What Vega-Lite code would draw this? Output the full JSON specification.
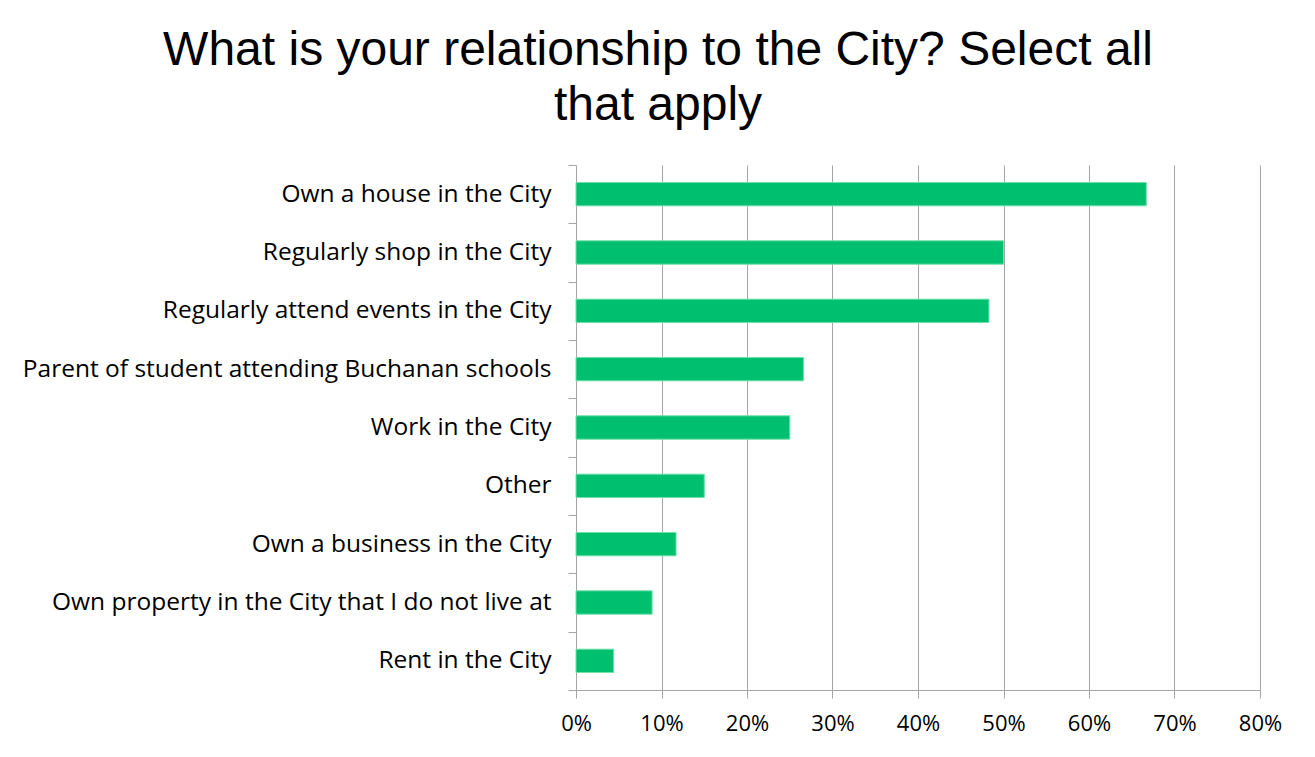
{
  "$schema": "https://vega.github.io/schema/vega-lite/v6.json",
  "width": 684,
  "height": 525,
  "autosize": {"type": "none"},
  "padding": {"left": 576, "top": 165, "right": 55, "bottom": 67},
  "background": "white",
  "title": {
    "text": ["What is your relationship to the City? Select all", "that apply"],
    "anchor": "middle",
    "dx": -260,
    "offset": 22,
    "fontSize": 48,
    "font": "Liberation Sans",
    "fontWeight": "normal",
    "color": "#000000",
    "lineHeight": 55
  },
  "data": {
    "values": [
      {"category": "Own a house in the City", "pct": 0.667},
      {"category": "Regularly shop in the City", "pct": 0.5},
      {"category": "Regularly attend events in the City", "pct": 0.483},
      {"category": "Parent of student attending Buchanan schools", "pct": 0.266},
      {"category": "Work in the City", "pct": 0.25},
      {"category": "Other", "pct": 0.15},
      {"category": "Own a business in the City", "pct": 0.117},
      {"category": "Own property in the City that I do not live at", "pct": 0.089},
      {"category": "Rent in the City", "pct": 0.044}
    ]
  },
  "mark": {"type": "bar", "color": "#00BF6F", "stroke": "#6EE0A8", "strokeWidth": 1, "height": {"band": 0.4}},
  "encoding": {
    "y": {
      "field": "category",
      "type": "nominal",
      "sort": null,
      "scale": {"paddingInner": 0, "paddingOuter": 0},
      "axis": {
        "title": null,
        "tickBand": "extent",
        "tickSize": 8,
        "tickColor": "#a6a6a6",
        "domainColor": "#a6a6a6",
        "labelFont": "Open Sans",
        "labelFontSize": 24.5,
        "labelColor": "#000000",
        "labelPadding": 17,
        "labelLimit": 700,
        "grid": false
      }
    },
    "x": {
      "field": "pct",
      "type": "quantitative",
      "scale": {"domain": [0, 0.8]},
      "axis": {
        "title": null,
        "format": ".0%",
        "values": [0, 0.1, 0.2, 0.3, 0.4, 0.5, 0.6, 0.7, 0.8],
        "labelOverlap": false,
        "labelFlush": false,
        "grid": true,
        "gridColor": "#a6a6a6",
        "tickColor": "#a6a6a6",
        "domainColor": "#a6a6a6",
        "tickSize": 8,
        "labelFont": "Open Sans",
        "labelFontSize": 22,
        "labelColor": "#000000",
        "labelPadding": 15
      }
    }
  },
  "config": {"view": {"stroke": null}}
}
